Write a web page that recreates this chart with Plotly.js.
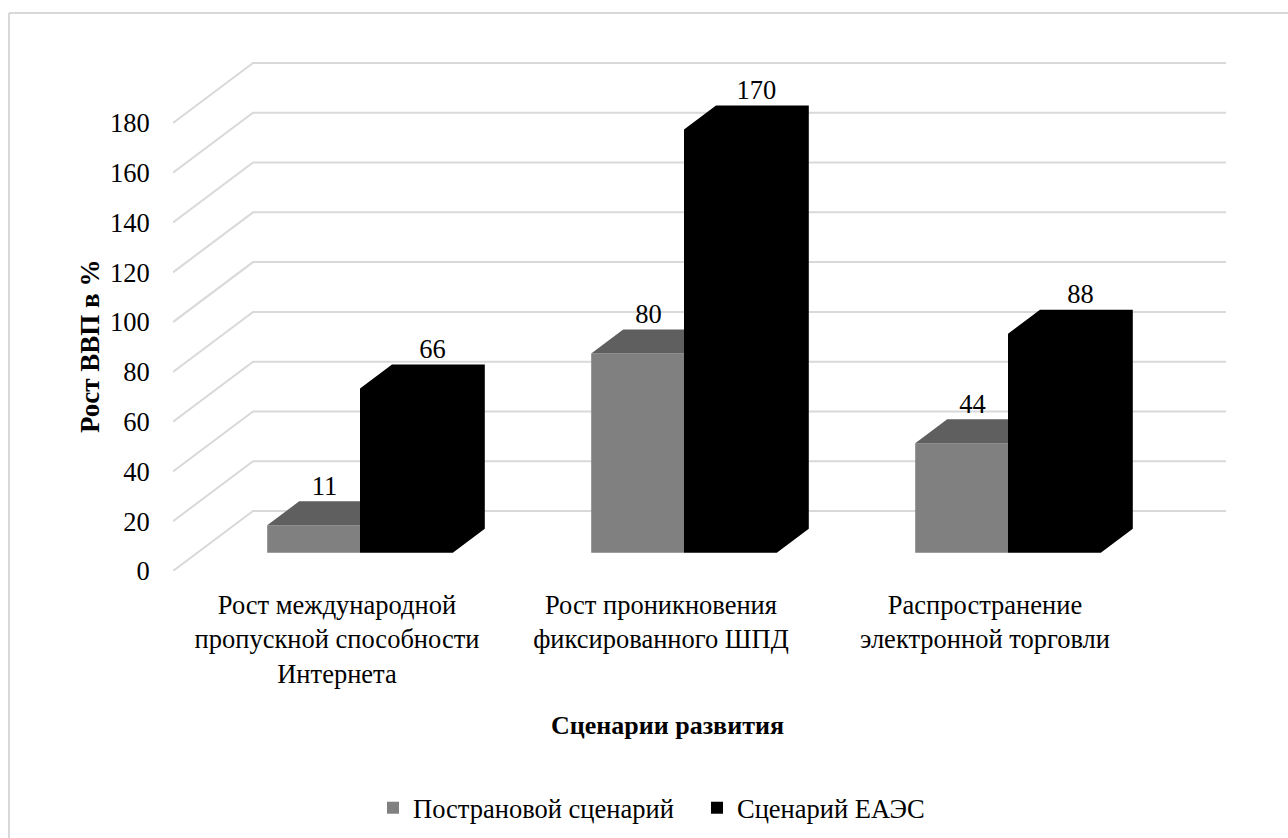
<!DOCTYPE html>
<html><head><meta charset="utf-8">
<script src="https://cdn.plot.ly/plotly-3.0.1.min.js"></script>
<style>html,body{margin:0;padding:0;background:#fff;overflow:hidden}</style>
</head><body><div id="chart" style="width:1288px;height:838px"></div>
<script>
const categories = ["Рост международной<br>пропускной способности<br>Интернета", "Рост проникновения<br>фиксированного ШПД", "Распространение<br>электронной торговли"];
const seriesNames = ["Пострановой сценарий", "Сценарий ЕАЭС"];
const countryValues = [11, 80, 44];
const eaeuValues = [66, 170, 88];
const yTicks = [0,20,40,60,80,100,120,140,160,180];

const FONT = "Liberation Serif";
const L=173,R=1226,T=62,B=571;
const pxX = 324, pxY = 448/180;
const indices = categories.map((_,i)=>i);
const barW = 92.8/pxX;
const barBase = 18.3/pxY, barDX = 32/pxX, barDY = 24/pxY;
const wallDX = 80/pxX, wallDY = 60/pxY;
const xMin = (L-360)/pxX, xMax = (R-360)/pxX, yMax=(B-T)/pxY;
const labelShift = -23/pxX;

const gridX=[],gridY=[];
yTicks.forEach(v=>{gridX.push(xMin,xMin+wallDX,xMax,null);gridY.push(v,v+wallDY,v+wallDY,null);});

function grayTop(){const X=[],Y=[];indices.forEach(i=>{const x0=i-barW,x1=i,t=barBase+countryValues[i];
  X.push(x0,x0+barDX,x1,x1,x0,null);Y.push(t,t+barDY,t+barDY,t,t,null);});return{X,Y};}
function blackBody(){const X=[],Y=[];indices.forEach(i=>{const x0=i,x1=i+barW,t=barBase+eaeuValues[i];
  X.push(x0,x0,x0+barDX,x1+barDX,x1+barDX,x1,x0,null);
  Y.push(barBase,t,t+barDY,t+barDY,barBase+barDY,barBase,barBase,null);});return{X,Y};}
const gt=grayTop(), bb=blackBody();
const skip={showlegend:false,hoverinfo:'skip'};

const traces=[
 {type:'scatter',mode:'lines',x:gridX,y:gridY,line:{color:'#d9d9d9',width:2},...skip},
 {type:'scatter',mode:'lines',x:indices.flatMap(i=>[i-barW,i-barW,i,i,i-barW,null]),
   y:indices.flatMap(i=>[barBase,barBase+countryValues[i],barBase+countryValues[i],barBase,barBase,null]),
   fill:'toself',fillcolor:'#808080',line:{width:0,color:'#808080'},name:seriesNames[0],hoverinfo:'skip',showlegend:false},
 {type:'scatter',mode:'lines',x:gt.X,y:gt.Y,fill:'toself',fillcolor:'#5f5f5f',line:{width:0},...skip},
 {type:'scatter',mode:'lines',x:bb.X,y:bb.Y,fill:'toself',fillcolor:'#000000',line:{width:0},name:seriesNames[1],...skip},
 {type:'scatter',mode:'text',x:indices.map(i=>i-barW/2+11/pxX),y:countryValues.map(v=>v+barBase+barDY),text:countryValues.map(String),
  textposition:'top center',textfont:{family:FONT,size:26.5,color:'#000'},...skip},
 {type:'scatter',mode:'text',x:indices.map(i=>i+barW/2+26/pxX),y:eaeuValues.map(v=>v+barBase+barDY),text:eaeuValues.map(String),
  textposition:'top center',textfont:{family:FONT,size:26.5,color:'#000'},...skip},
 // legend keys
 {type:'bar',name:seriesNames[0],x:[null],y:[null],marker:{color:'#808080'},hoverinfo:'skip'},
 {type:'bar',name:seriesNames[1],x:[null],y:[null],marker:{color:'#000000'},hoverinfo:'skip'}
];

const W=R-L,H=B-T;
const layout={
 width:1288,height:838,paper_bgcolor:'#fff',plot_bgcolor:'rgba(0,0,0,0)',
 margin:{l:L,r:1288-R,t:T,b:838-B,pad:0,autoexpand:false},
 showlegend:true,
 font:{family:FONT,size:26,color:'#000'},
 xaxis:{range:[xMin,xMax],showgrid:false,zeroline:false,showline:false,
   tickvals:indices.map(i=>i+labelShift),ticktext:categories,tickfont:{family:FONT,size:26.5,color:'#000'},
   ticks:'outside',ticklen:10,tickcolor:'rgba(0,0,0,0)'},
 yaxis:{range:[0,yMax],tickvals:yTicks,ticktext:yTicks.map(String),showgrid:false,zeroline:false,showline:false,
   ticks:'outside',ticklen:17,tickcolor:'rgba(0,0,0,0)',tickfont:{family:FONT,size:26.5,color:'#000'}},
 legend:{orientation:'h',x:(373-L)/W,y:-(784-B)/H,xanchor:'left',yanchor:'top',font:{family:FONT,size:26.5,color:'#000'},bgcolor:'rgba(0,0,0,0)',entrywidth:279,entrywidthmode:'pixels'},
 annotations:[
  {text:'<b>Сценарии развития</b>',xref:'paper',yref:'paper',x:(667-L)/W,y:(B-725)/H,xanchor:'center',yanchor:'middle',showarrow:false,font:{family:FONT,size:26,color:'#000'}},
  {text:'<b>Рост ВВП в %</b>',xref:'paper',yref:'paper',x:(90-L)/W,y:(B-347)/H,xanchor:'center',yanchor:'middle',textangle:-90,showarrow:false,font:{family:FONT,size:27,color:'#000'}}
 ],
 shapes:[
  {type:'line',xref:'paper',yref:'paper',layer:'below',x0:(9-L)/W,x1:(9-L)/W,y0:(B-838)/H,y1:(B-13)/H,line:{color:'#d9d9d9',width:2}},
  {type:'line',xref:'paper',yref:'paper',layer:'below',x0:(9-L)/W,x1:(1288-L)/W,y0:(B-13)/H,y1:(B-13)/H,line:{color:'#d9d9d9',width:2}}]
};
Plotly.newPlot('chart',traces,layout,{displayModeBar:false,staticPlot:true});
</script></body></html>
